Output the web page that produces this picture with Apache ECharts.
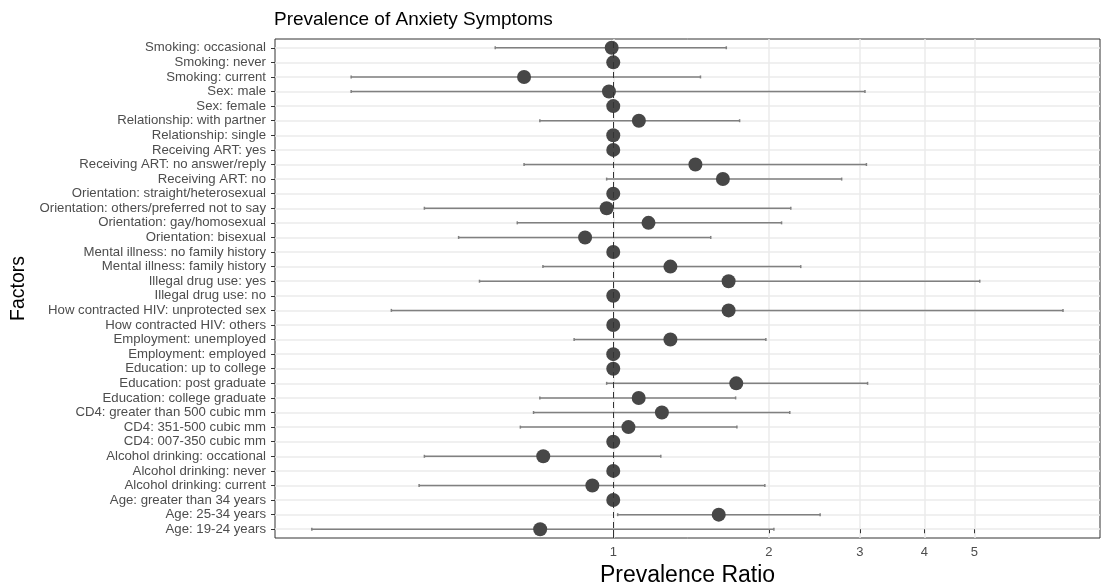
<!DOCTYPE html>
<html>
<head>
<meta charset="utf-8">
<script src="https://cdn.jsdelivr.net/npm/echarts@6/dist/echarts.min.js"></script>
<style>html,body{margin:0;padding:0;background:#fff;}#c{width:1101px;height:586px;}</style>
</head>
<body>
<div id="c"></div>
<script>
// categories listed bottom-to-top
const categories = [
  "Age: 19-24 years","Age: 25-34 years","Age: greater than 34 years",
  "Alcohol drinking: current","Alcohol drinking: never","Alcohol drinking: occational",
  "CD4: 007-350 cubic mm","CD4: 351-500 cubic mm","CD4: greater than 500 cubic mm",
  "Education: college graduate","Education: post graduate","Education: up to college",
  "Employment: employed","Employment: unemployed",
  "How contracted HIV: others","How contracted HIV: unprotected sex",
  "Illegal drug use: no","Illegal drug use: yes",
  "Mental illness: family history","Mental illness: no family history",
  "Orientation: bisexual","Orientation: gay/homosexual","Orientation: others/preferred not to say","Orientation: straight/heterosexual",
  "Receiving ART: no","Receiving ART: no answer/reply","Receiving ART: yes",
  "Relationship: single","Relationship: with partner",
  "Sex: female","Sex: male",
  "Smoking: current","Smoking: never","Smoking: occasional"
];
const ratio = [
  0.722,1.60,1.0,
  0.911,1.0,0.732,
  1.0,1.07,1.242,
  1.12,1.73,1.0,
  1.0,1.29,
  1.0,1.672,
  1.0,1.672,
  1.29,1.0,
  0.882,1.17,0.971,1.0,
  1.63,1.442,1.0,
  1.0,1.121,
  1.0,0.981,
  0.672,1.0,0.993
];
const lower = [
  0.261,1.02,null,
  0.421,null,0.431,
  null,0.661,0.701,
  0.721,0.971,null,
  null,0.84,
  null,0.372,
  null,0.551,
  0.731,null,
  0.502,0.652,0.431,null,
  0.971,0.672,null,
  null,0.721,
  null,0.311,
  0.311,null,0.591
];
const upper = [
  2.046,2.514,null,
  1.965,null,1.236,
  null,1.735,2.196,
  1.725,3.106,null,
  null,1.974,
  null,7.42,
  null,5.12,
  2.306,null,
  1.544,2.117,2.206,null,
  2.767,3.09,null,
  null,1.756,
  null,3.07,
  1.475,null,1.655
];
const xTicks = [1,2,3,4,5];

const pointData = ratio.map((v,i)=>[v,i]);
const ciData = [];
lower.forEach((lo,i)=>{ if(lo!=null) ciData.push([lo, upper[i], i]); });
const yIdx = categories.map((_,i)=>i);
const FONT = 'Liberation Sans, Arial, sans-serif';

const chart = echarts.init(document.getElementById('c'), null, {renderer:'canvas'});
chart.setOption({
  animation:false,
  backgroundColor:'#fff',
  title:{text:'Prevalence of Anxiety Symptoms', left:269, top:5,
    textStyle:{fontFamily:FONT, fontSize:19, fontWeight:'normal', color:'#000'}},
  grid:{left:275, right:1, top:39, bottom:48, show:true, borderColor:'#333', borderWidth:1,
    backgroundColor:'transparent', containLabel:false, outerBoundsMode:'none'},
  xAxis:{
    type:'log', min:0.2215, max:8.75,
    name:'Prevalence Ratio', nameLocation:'middle', nameGap:24,
    nameTextStyle:{fontFamily:FONT, fontSize:23, color:'#000'},
    axisLine:{show:false},
    axisTick:{show:true, length:4, lineStyle:{color:'#333'}, customValues:xTicks},
    axisLabel:{customValues:xTicks, margin:8, fontFamily:FONT, fontSize:13, color:'#4D4D4D', formatter:v=>String(Math.round(v))},
    splitLine:{show:true, lineStyle:{color:'#EBEBEB', width:1.5}},
    minorSplitLine:{show:false}
  },
  yAxis:{
    type:'value', min:-0.6, max:33.6,
    name:'Factors', nameLocation:'middle', nameGap:246, nameRotate:90,
    nameTextStyle:{fontFamily:FONT, fontSize:19.5, color:'#000'},
    axisLine:{show:false},
    axisTick:{show:true, length:4, lineStyle:{color:'#333'}, customValues:yIdx},
    axisLabel:{customValues:yIdx, margin:9, fontFamily:FONT, fontSize:13.2, color:'#4D4D4D',
      formatter:v=>categories[Math.round(v)]},
    splitLine:{show:true, lineStyle:{color:'#EBEBEB', width:1.5}}
  },
  series:[
    {
      type:'custom', z:2,
      data:ciData,
      encode:{x:[0,1], y:2},
      renderItem:(params, api)=>{
        const p1 = api.coord([api.value(0), api.value(2)]);
        const p2 = api.coord([api.value(1), api.value(2)]);
        const h = 1.5;
        const st = {stroke:'#808080', lineWidth:1.5};
        return {type:'group', children:[
          {type:'line', shape:{x1:p1[0], y1:p1[1], x2:p2[0], y2:p2[1]}, style:st},
          {type:'line', shape:{x1:p1[0], y1:p1[1]-h, x2:p1[0], y2:p1[1]+h}, style:st},
          {type:'line', shape:{x1:p2[0], y1:p2[1]-h, x2:p2[0], y2:p2[1]+h}, style:st}
        ]};
      },
      markLine:{silent:true, symbol:'none', label:{show:false},
        lineStyle:{type:[6,4], color:'#333', width:1},
        data:[{xAxis:1}]}
    },
    {
      type:'scatter', z:3,
      data:pointData,
      symbol:'circle', symbolSize:14,
      itemStyle:{color:'#474747', opacity:1}
    }
  ]
});
</script>
</body>
</html>
